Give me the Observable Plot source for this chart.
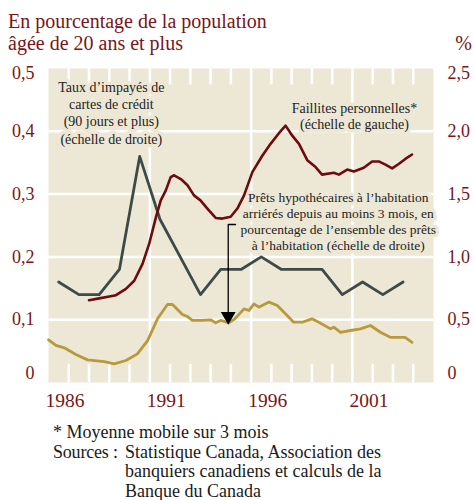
<!DOCTYPE html>
<html>
<head>
<meta charset="utf-8">
<script src="https://cdn.jsdelivr.net/npm/d3@7"></script>
<script src="https://cdn.jsdelivr.net/npm/@observablehq/plot@0.6"></script>
<style>
  html, body { margin: 0; padding: 0; background: #fff; }
  body { width: 474px; height: 500px; overflow: hidden; font-family: "Liberation Serif", serif; }
  .title { position: relative; padding: 10px 0 0 8px; height: 44px; color: #7a1518; font-size: 20px; line-height: 22px; }
  .title .pct { position: absolute; right: 2px; top: 32px; }
  .foot { margin-top: 11px; padding-left: 53px; color: #1a1a1a; font-size: 18px; line-height: 19.6px; }
  .src { display: flex; }
  .src .lab { width: 72px; flex: none; white-space: nowrap; letter-spacing: -0.2px; }
  svg { display: block; }
</style>
</head>
<body>
<div class="title">En pourcentage de la population<br>âgée de 20 ans et plus<span class="pct">%</span></div>
<div id="chart"></div>
<div class="foot">
  <div>* Moyenne mobile sur 3 mois</div>
  <div class="src"><span class="lab">Sources :</span><span>Statistique Canada, Association des<br>banquiers canadiens et calculs de la<br>Banque du Canada</span></div>
</div>
<script>
// Faillites personnelles* (échelle de gauche, % de la population)
const faillitesYears = [1988.0, 1988.5, 1989.0, 1989.33, 1989.82, 1990.23, 1990.64, 1990.97, 1991.3, 1991.54, 1991.79, 1992.03, 1992.2, 1992.53, 1992.86, 1993.18, 1993.5, 1993.84, 1994.25, 1994.58, 1994.99, 1995.32, 1995.65, 1996.06, 1996.55, 1996.96, 1997.37, 1997.7, 1998.03, 1998.36, 1998.77, 1999.18, 1999.5, 2000.08, 2000.33, 2000.74, 2001.07, 2001.56, 2001.97, 2002.3, 2002.63, 2002.96, 2003.28, 2003.61, 2003.94];
const faillitesValues = [0.131, 0.134, 0.137, 0.139, 0.149, 0.162, 0.189, 0.221, 0.263, 0.290, 0.306, 0.327, 0.330, 0.324, 0.314, 0.298, 0.290, 0.277, 0.262, 0.261, 0.264, 0.277, 0.298, 0.335, 0.361, 0.380, 0.397, 0.409, 0.393, 0.380, 0.354, 0.343, 0.331, 0.334, 0.331, 0.339, 0.336, 0.342, 0.352, 0.352, 0.347, 0.341, 0.348, 0.356, 0.363];

// Taux d'impayés de cartes de crédit (échelle de droite, %)
const cartesYears = [1986.5, 1987.5, 1988.5, 1989.5, 1990.5, 1991.5, 1992.5, 1993.5, 1994.5, 1995.5, 1996.5, 1997.5, 1998.5, 1999.5, 2000.5, 2001.5, 2002.5, 2003.5];
const cartesValues = [0.8, 0.7, 0.7, 0.9, 1.8, 1.3, 1.0, 0.7, 0.9, 0.9, 1.0, 0.9, 0.9, 0.9, 0.7, 0.8, 0.7, 0.8];

// Prêts hypothécaires arriérés (échelle de droite, %)
const pretsYears = [1986.0, 1986.37, 1986.78, 1987.35, 1987.93, 1988.75, 1989.24, 1989.82, 1990.39, 1990.89, 1991.38, 1991.87, 1992.12, 1992.61, 1992.86, 1993.1, 1993.6, 1994.0, 1994.25, 1994.5, 1994.9, 1995.2, 1995.65, 1995.89, 1996.14, 1996.38, 1996.88, 1997.29, 1997.62, 1998.1, 1998.52, 1999.0, 1999.34, 1999.92, 2000.08, 2000.41, 2000.9, 2001.4, 2001.89, 2002.38, 2002.87, 2003.6, 2003.94];
const pretsValues = [0.34, 0.295, 0.276, 0.223, 0.18, 0.167, 0.149, 0.175, 0.228, 0.334, 0.507, 0.621, 0.621, 0.541, 0.525, 0.494, 0.494, 0.499, 0.475, 0.494, 0.475, 0.507, 0.586, 0.573, 0.626, 0.600, 0.64, 0.613, 0.56, 0.48, 0.48, 0.507, 0.48, 0.427, 0.44, 0.40, 0.414, 0.427, 0.454, 0.40, 0.36, 0.36, 0.32];

// Axes
const xDomain = [1986, 2005];
const majorYears = [1991, 1996, 2001];
const xTickLabels = [1986, 1991, 1996, 2001];
const minorYears = [1987, 1988, 1989, 1990, 1992, 1993, 1994, 1995, 1997, 1998, 1999, 2000, 2002, 2003, 2004];
const leftTicks = [0, 0.1, 0.2, 0.3, 0.4, 0.5];
const rightToLeft = 5; // right scale = left scale × 5

// Annotations
const noteCartes = [{x: 1989.1, y: 0.430, text: "Taux d’impayés de\ncartes de crédit\n(90 jours et plus)\n(échelle de droite)"}];
const noteFaillites = [{x: 2001.1, y: 0.425, text: "Faillites personnelles*\n(échelle de gauche)"}];
const notePrets = [{x: 2000.3, y: 0.257, text: "Prêts hypothécaires à l’habitation\narriérés depuis au moins 3 mois, en\npourcentage de l’ensemble des prêts\nà l’habitation (échelle de droite)"}];
const arrowX = [1995.23, 1994.87, 1994.87];
const arrowY = [0.2516, 0.2516, 0.108];
const arrowTip = [{x: 1994.87, y: 0.1055}];

const bg = "#ede8d6";
const red = "#6d0b0e";
const grey = "#3d4a47";
const gold = "#b89a3c";
const labelRed = "#7a1518";

const faillites = faillitesYears.map((x, i) => ({x, v: faillitesValues[i]}));
const cartes = cartesYears.map((x, i) => ({x, v: cartesValues[i] / rightToLeft}));
const prets = pretsYears.map((x, i) => ({x, v: pretsValues[i] / rightToLeft}));
const arrowPath = arrowX.map((x, i) => ({x, y: arrowY[i]}));

const fmtL = d => d === 0 ? "0" : d.toFixed(1).replace(".", ",");
const fmtR = d => d === 0 ? "0" : (d * rightToLeft).toFixed(1).replace(".", ",");
const mid = leftTicks.filter(d => d > 0 && d < 0.5);
const axisStyle = {tickSize: 0, tickPadding: 14, fontSize: 18, fill: labelRed, label: null};
const noteStyle = {x: "x", y: "y", text: "text", fill: "#222", stroke: bg, strokeWidth: 7, lineAnchor: "middle"};

const chart = Plot.plot({
  width: 474,
  height: 358,
  marginLeft: 48,
  marginRight: 41,
  marginTop: 14,
  marginBottom: 30,
  x: {domain: xDomain},
  y: {domain: [0, 0.5]},
  style: {fontFamily: "Liberation Serif, serif", background: "transparent", overflow: "visible"},
  marks: [
    Plot.frame({fill: bg, stroke: null}),
    Plot.ruleY(mid, {stroke: "white", strokeWidth: 2.5}),
    Plot.ruleX(majorYears, {stroke: "white", strokeWidth: 2.5}),
    Plot.ruleX(minorYears, {y1: 0, y2: 0.029, stroke: "white", strokeWidth: 2.5}),
    Plot.ruleX(minorYears, {y1: 0.474, y2: 0.5, stroke: "white", strokeWidth: 2.5}),
    Plot.text(noteCartes, {...noteStyle, fontSize: 14, lineHeight: 1.22}),
    Plot.text(noteFaillites, {...noteStyle, fontSize: 14, lineHeight: 1.18}),
    Plot.text(notePrets, {...noteStyle, fontSize: 13.5, lineHeight: 1.19}),
    Plot.line(prets, {x: "x", y: "v", stroke: gold, strokeWidth: 2.8}),
    Plot.line(cartes, {x: "x", y: "v", stroke: grey, strokeWidth: 2.8}),
    Plot.line(faillites, {x: "x", y: "v", stroke: red, strokeWidth: 2.6}),
    Plot.line(arrowPath, {x: "x", y: "y", stroke: "#000", strokeWidth: 1.3}),
    Plot.dot(arrowTip, {x: "x", y: "y", symbol: "triangle", rotate: 180, r: 5.5, fill: "#000", stroke: null}),
    Plot.axisX(xTickLabels, {tickSize: 0, tickPadding: 11, fontSize: 19.5, fill: labelRed, textAnchor: "start", dx: -3, tickFormat: d => String(d), label: null}),
    Plot.axisY(mid, {...axisStyle, anchor: "left", tickFormat: fmtL}),
    Plot.axisY([0], {...axisStyle, anchor: "left", tickFormat: fmtL, dy: -9}),
    Plot.axisY([0.5], {...axisStyle, anchor: "left", tickFormat: fmtL, dy: 5}),
    Plot.axisY(mid, {...axisStyle, anchor: "right", tickFormat: fmtR}),
    Plot.axisY([0], {...axisStyle, anchor: "right", tickFormat: fmtR, dy: -9}),
    Plot.axisY([0.5], {...axisStyle, anchor: "right", tickFormat: fmtR, dy: 5})
  ]
});
document.getElementById("chart").appendChild(chart);
</script>
</body>
</html>
